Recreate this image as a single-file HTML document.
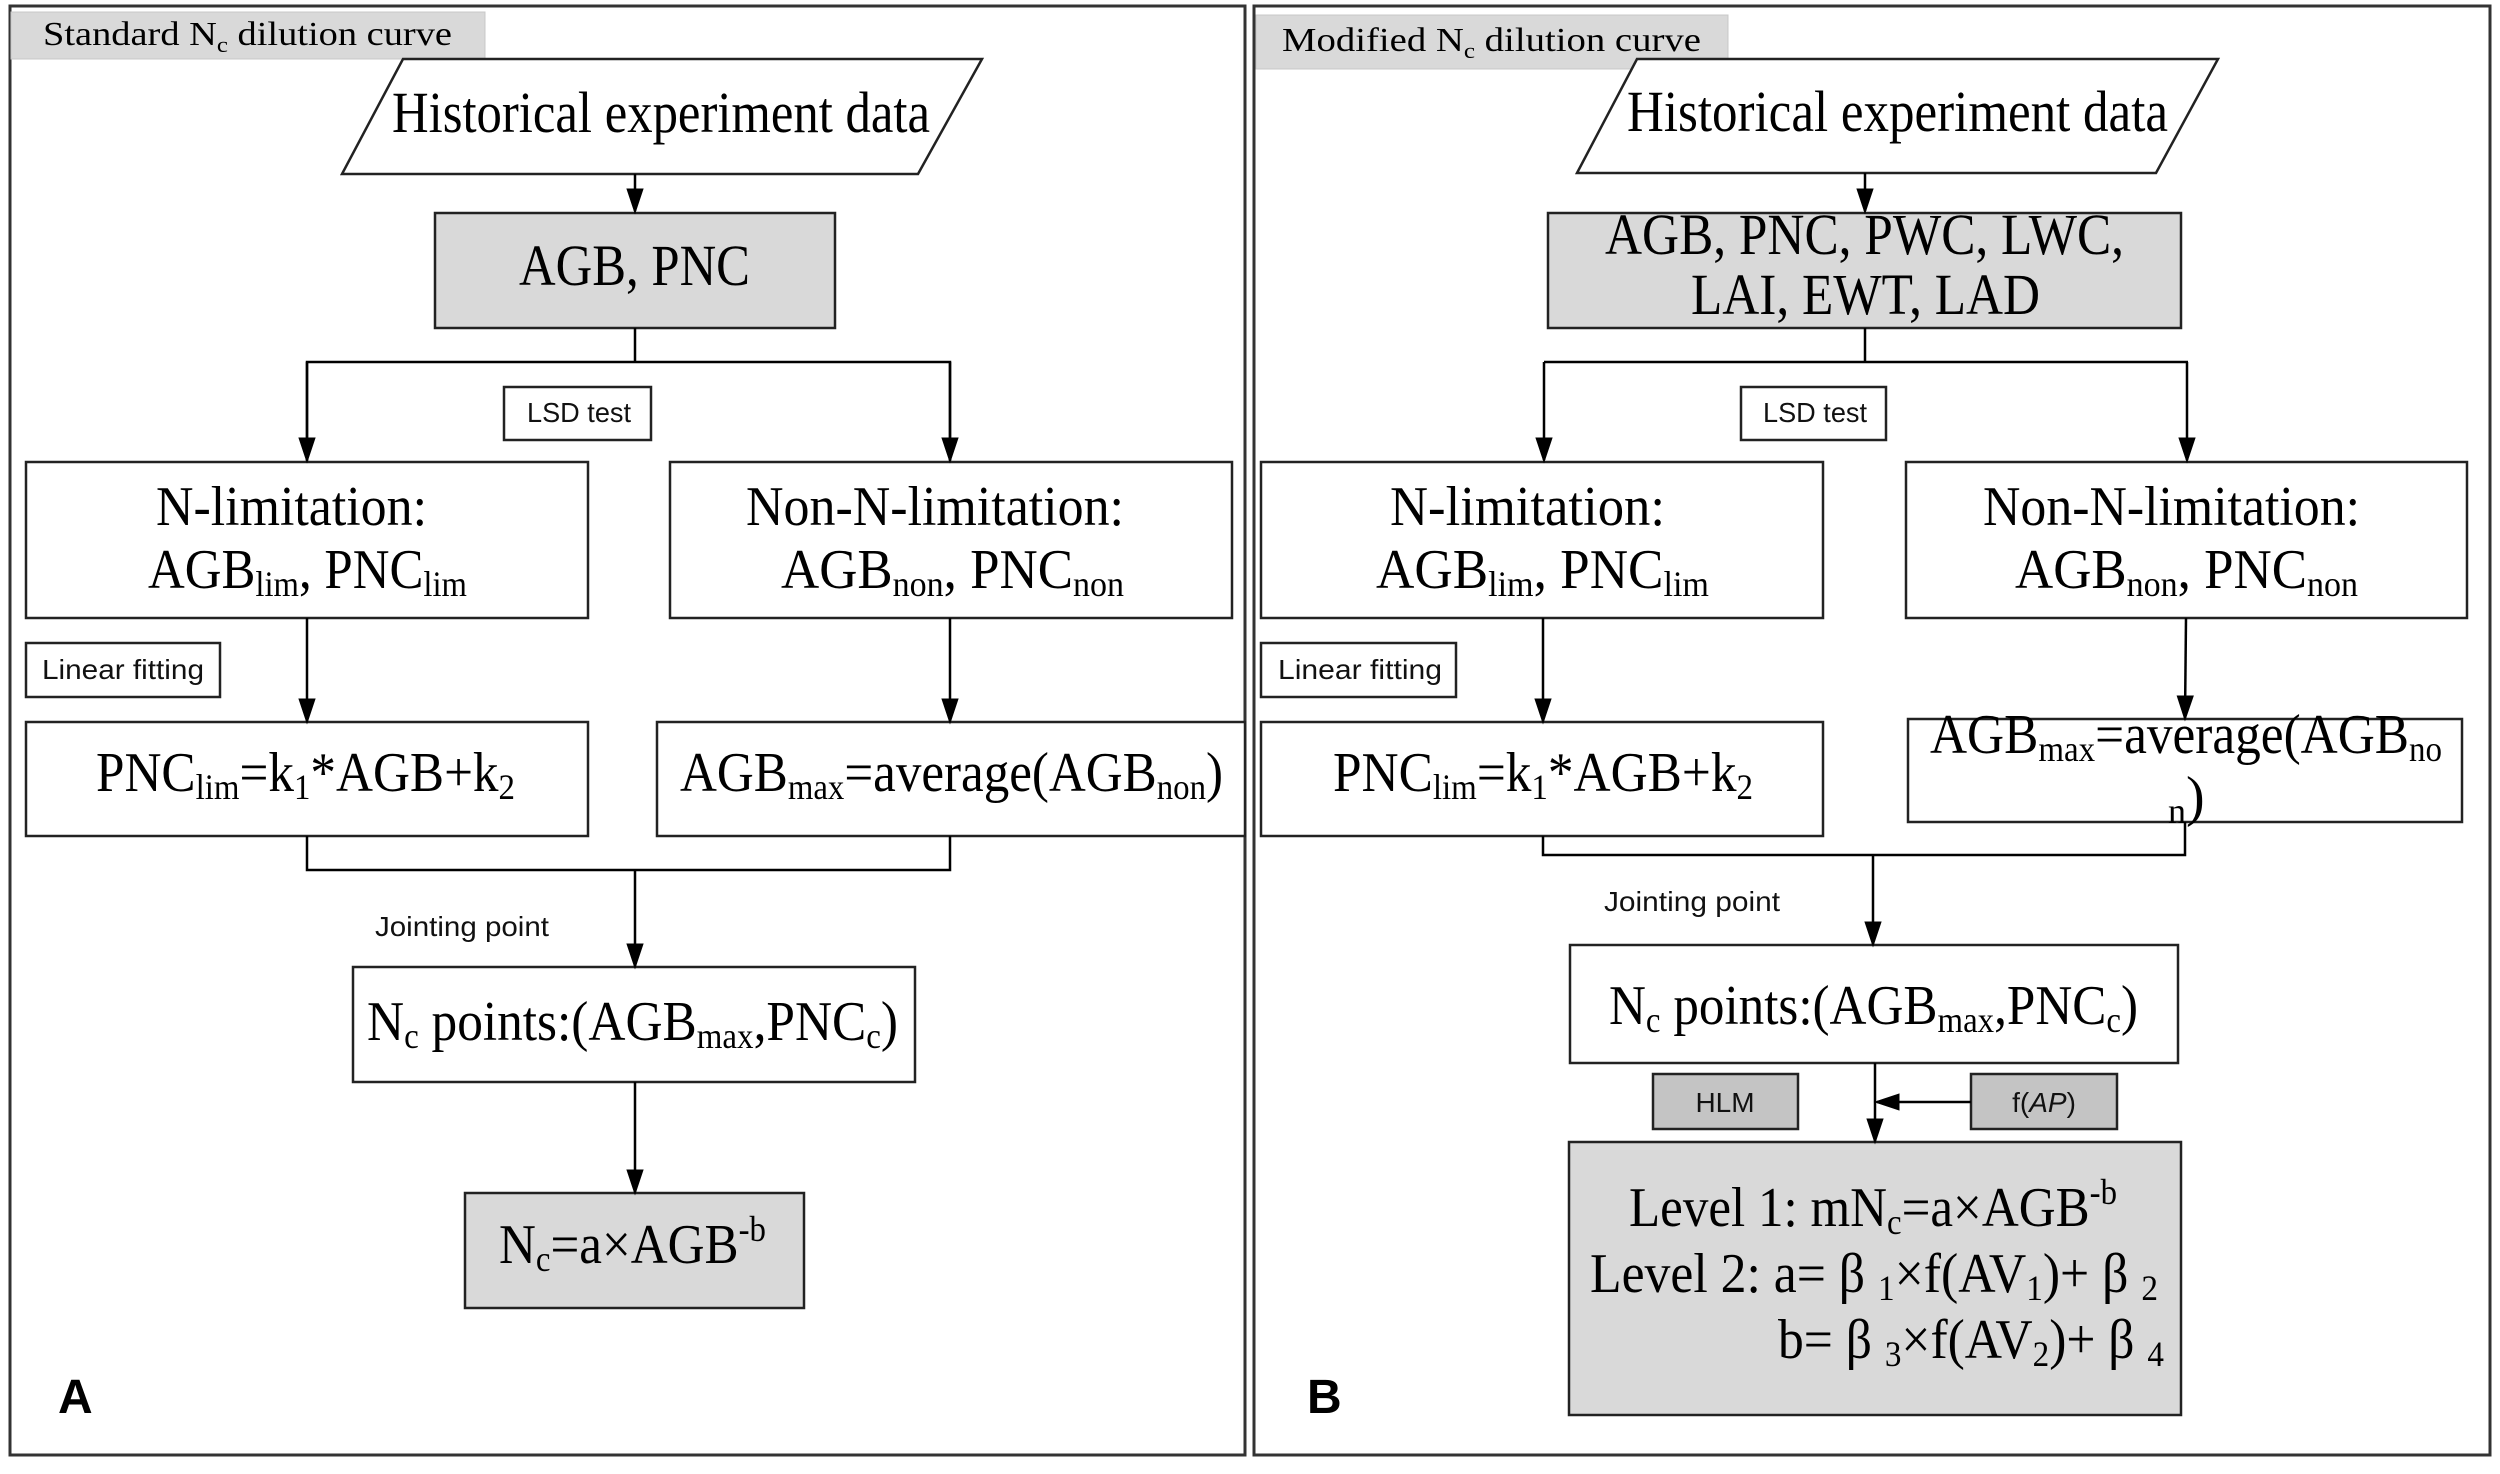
<!DOCTYPE html>
<html><head><meta charset="utf-8"><style>
html,body{margin:0;padding:0;background:#fff}
svg{display:block}
.s{font-family:"Liberation Serif",serif;fill:#000}
.c{font-family:"Liberation Sans",sans-serif;fill:#111}
</style></head><body>
<svg width="2500" height="1474" viewBox="0 0 2500 1474" xmlns="http://www.w3.org/2000/svg">
<defs>
<marker id="ar" markerWidth="10" markerHeight="12" refX="9" refY="6" orient="auto" markerUnits="userSpaceOnUse" viewBox="0 0 10 12">
<path d="M0,0 L10,6 L0,12 z" fill="#000"/></marker>
<marker id="ab" markerWidth="26" markerHeight="30" refX="26" refY="10" orient="auto" markerUnits="userSpaceOnUse" viewBox="0 0 30 20">
<path d="M0,0 L30,10 L0,20 z" fill="#000"/></marker>
</defs>
<g fill="none" stroke="#333" stroke-width="3">
<rect x="10" y="6" width="1235" height="1449"/>
<rect x="1254" y="6" width="1236" height="1449"/>
</g>
<!-- Tabs -->
<rect x="11" y="12" width="474" height="47" fill="#d9d9d9" stroke="#c8c8c8" stroke-width="1"/>
<text class="s" x="43" y="45" font-size="34" textLength="409" lengthAdjust="spacingAndGlyphs">Standard N<tspan font-size="22" dy="7">c</tspan><tspan dy="-7"> dilution curve</tspan></text>
<rect x="1256" y="15" width="472" height="54" fill="#d9d9d9" stroke="#c8c8c8" stroke-width="1"/>
<text class="s" x="1282" y="51" font-size="34" textLength="419" lengthAdjust="spacingAndGlyphs">Modified N<tspan font-size="22" dy="7">c</tspan><tspan dy="-7"> dilution curve</tspan></text>

<g stroke="#222" stroke-width="2.5" fill="#fff">
<!-- LEFT -->
<polygon points="403,59 982,59 918,174 342,174"/>
<rect x="435" y="213" width="400" height="115" fill="#d9d9d9"/>
<rect x="504" y="387" width="147" height="53"/>
<rect x="26" y="462" width="562" height="156"/>
<rect x="670" y="462" width="562" height="156"/>
<rect x="26" y="643" width="194" height="54"/>
<rect x="26" y="722" width="562" height="114"/>
<rect x="657" y="722" width="588" height="114"/>
<rect x="353" y="967" width="562" height="115"/>
<rect x="465" y="1193" width="339" height="115" fill="#d9d9d9"/>
<!-- RIGHT -->
<polygon points="1637,59 2218,59 2156,173 1577,173"/>
<rect x="1548" y="213" width="633" height="115" fill="#d9d9d9"/>
<rect x="1741" y="387" width="145" height="53"/>
<rect x="1261" y="462" width="562" height="156"/>
<rect x="1906" y="462" width="561" height="156"/>
<rect x="1261" y="643" width="195" height="54"/>
<rect x="1261" y="722" width="562" height="114"/>
<rect x="1908" y="719" width="554" height="103"/>
<rect x="1570" y="945" width="608" height="118"/>
<rect x="1653" y="1074" width="145" height="55" fill="#c4c4c4"/>
<rect x="1971" y="1074" width="146" height="55" fill="#c4c4c4"/>
<rect x="1569" y="1142" width="612" height="273" fill="#d9d9d9"/>
</g>

<g stroke="#000" stroke-width="2.5" fill="none">
<!-- left connectors -->
<line x1="635" y1="174" x2="635" y2="211" marker-end="url(#ab)"/>
<polyline points="635,328 635,362"/>
<polyline points="307,461 307,362 950,362 950,461"/>
<line x1="307" y1="362" x2="307" y2="460" marker-end="url(#ab)"/>
<line x1="950" y1="362" x2="950" y2="460" marker-end="url(#ab)"/>
<line x1="307" y1="618" x2="307" y2="721" marker-end="url(#ab)"/>
<line x1="950" y1="618" x2="950" y2="721" marker-end="url(#ab)"/>
<polyline points="307,836 307,870 950,870 950,836"/>
<line x1="635" y1="870" x2="635" y2="966" marker-end="url(#ab)"/>
<line x1="635" y1="1082" x2="635" y2="1192" marker-end="url(#ab)"/>
<!-- right connectors -->
<line x1="1865" y1="173" x2="1865" y2="211" marker-end="url(#ab)"/>
<polyline points="1865,328 1865,362"/>
<polyline points="1544,362 2188,362"/>
<line x1="1544" y1="362" x2="1544" y2="460" marker-end="url(#ab)"/>
<line x1="2187" y1="362" x2="2187" y2="460" marker-end="url(#ab)"/>
<line x1="1543" y1="618" x2="1543" y2="721" marker-end="url(#ab)"/>
<line x1="2186" y1="618" x2="2185" y2="718" marker-end="url(#ab)"/>
<polyline points="1543,836 1543,855 2185,855 2185,822"/>
<line x1="1873" y1="855" x2="1873" y2="944" marker-end="url(#ab)"/>
<line x1="1875" y1="1063" x2="1875" y2="1141" marker-end="url(#ab)"/>
<line x1="1971" y1="1102" x2="1877" y2="1102" marker-end="url(#ab)"/>
</g>

<!-- LEFT TEXT -->
<text class="s" x="392" y="132" font-size="58" textLength="538" lengthAdjust="spacingAndGlyphs">Historical experiment data</text>
<text class="s" x="519" y="285" font-size="58" textLength="231" lengthAdjust="spacingAndGlyphs">AGB, PNC</text>
<text class="c" x="527" y="422" font-size="28" textLength="104" lengthAdjust="spacingAndGlyphs">LSD test</text>
<text class="s" x="156" y="525" font-size="56" textLength="271" lengthAdjust="spacingAndGlyphs">N-limitation:</text>
<text class="s" x="148" y="588" font-size="56" textLength="319" lengthAdjust="spacingAndGlyphs">AGB<tspan font-size="36" dy="8">lim</tspan><tspan dy="-8">, PNC</tspan><tspan font-size="36" dy="8">lim</tspan></text>
<text class="s" x="746" y="525" font-size="56" textLength="378" lengthAdjust="spacingAndGlyphs">Non-N-limitation:</text>
<text class="s" x="781" y="588" font-size="56" textLength="343" lengthAdjust="spacingAndGlyphs">AGB<tspan font-size="36" dy="8">non</tspan><tspan dy="-8">,  PNC</tspan><tspan font-size="36" dy="8">non</tspan></text>
<text class="c" x="42" y="679" font-size="28" textLength="162" lengthAdjust="spacingAndGlyphs">Linear fitting</text>
<text class="s" x="96" y="791" font-size="56" textLength="419" lengthAdjust="spacingAndGlyphs">PNC<tspan font-size="36" dy="8">lim</tspan><tspan dy="-8">=k</tspan><tspan font-size="36" dy="8">1</tspan><tspan dy="-8">*AGB+k</tspan><tspan font-size="36" dy="8">2</tspan></text>
<text class="s" x="680" y="791" font-size="56" textLength="543" lengthAdjust="spacingAndGlyphs">AGB<tspan font-size="36" dy="8">max</tspan><tspan dy="-8">=average(AGB</tspan><tspan font-size="36" dy="8">non</tspan><tspan dy="-8">)</tspan></text>
<text class="c" x="375" y="936" font-size="28" textLength="174" lengthAdjust="spacingAndGlyphs">Jointing point</text>
<text class="s" x="367" y="1040" font-size="56" textLength="531" lengthAdjust="spacingAndGlyphs">N<tspan font-size="36" dy="8">c</tspan><tspan dy="-8"> points:(AGB</tspan><tspan font-size="36" dy="8">max</tspan><tspan dy="-8">,PNC</tspan><tspan font-size="36" dy="8">c</tspan><tspan dy="-8">)</tspan></text>
<text class="s" x="499" y="1263" font-size="56" textLength="267" lengthAdjust="spacingAndGlyphs">N<tspan font-size="36" dy="8">c</tspan><tspan dy="-8">=a×AGB</tspan><tspan font-size="36" dy="-22">-b</tspan></text>
<text x="58" y="1413" font-family="Liberation Sans,sans-serif" font-weight="bold" font-size="48">A</text>

<!-- RIGHT TEXT -->
<text class="s" x="1627" y="131" font-size="58" textLength="541" lengthAdjust="spacingAndGlyphs">Historical experiment data</text>
<text class="s" x="1605" y="254" font-size="58" textLength="519" lengthAdjust="spacingAndGlyphs">AGB, PNC, PWC, LWC,</text>
<text class="s" x="1691" y="314" font-size="58" textLength="349" lengthAdjust="spacingAndGlyphs">LAI, EWT, LAD</text>
<text class="c" x="1763" y="422" font-size="28" textLength="104" lengthAdjust="spacingAndGlyphs">LSD test</text>
<text class="s" x="1390" y="525" font-size="56" textLength="275" lengthAdjust="spacingAndGlyphs">N-limitation:</text>
<text class="s" x="1376" y="588" font-size="56" textLength="333" lengthAdjust="spacingAndGlyphs">AGB<tspan font-size="36" dy="8">lim</tspan><tspan dy="-8">,  PNC</tspan><tspan font-size="36" dy="8">lim</tspan></text>
<text class="s" x="1983" y="525" font-size="56" textLength="377" lengthAdjust="spacingAndGlyphs">Non-N-limitation:</text>
<text class="s" x="2015" y="588" font-size="56" textLength="343" lengthAdjust="spacingAndGlyphs">AGB<tspan font-size="36" dy="8">non</tspan><tspan dy="-8">,  PNC</tspan><tspan font-size="36" dy="8">non</tspan></text>
<text class="c" x="1278" y="679" font-size="28" textLength="164" lengthAdjust="spacingAndGlyphs">Linear fitting</text>
<text class="s" x="1333" y="791" font-size="56" textLength="420" lengthAdjust="spacingAndGlyphs">PNC<tspan font-size="36" dy="8">lim</tspan><tspan dy="-8">=k</tspan><tspan font-size="36" dy="8">1</tspan><tspan dy="-8">*AGB+k</tspan><tspan font-size="36" dy="8">2</tspan></text>
<text class="s" x="1930" y="753" font-size="56" textLength="512" lengthAdjust="spacingAndGlyphs">AGB<tspan font-size="36" dy="8">max</tspan><tspan dy="-8">=average(AGB</tspan><tspan font-size="36" dy="8">no</tspan></text>
<text class="s" x="2168" y="815" font-size="56"><tspan font-size="36" dy="8">n</tspan><tspan dy="-8">)</tspan></text>
<text class="c" x="1604" y="911" font-size="28" textLength="176" lengthAdjust="spacingAndGlyphs">Jointing point</text>
<text class="s" x="1609" y="1024" font-size="56" textLength="529" lengthAdjust="spacingAndGlyphs">N<tspan font-size="36" dy="8">c</tspan><tspan dy="-8"> points:(AGB</tspan><tspan font-size="36" dy="8">max</tspan><tspan dy="-8">,PNC</tspan><tspan font-size="36" dy="8">c</tspan><tspan dy="-8">)</tspan></text>
<text class="c" x="1725" y="1112" font-size="28" text-anchor="middle">HLM</text>
<text class="c" x="2044" y="1112" font-size="28" text-anchor="middle">f(<tspan font-style="italic">AP</tspan>)</text>
<text class="s" x="1629" y="1226" font-size="56" textLength="488" lengthAdjust="spacingAndGlyphs">Level 1: mN<tspan font-size="36" dy="8">c</tspan><tspan dy="-8">=a×AGB</tspan><tspan font-size="36" dy="-22">-b</tspan></text>
<text class="s" x="1590" y="1292" font-size="56" textLength="568" lengthAdjust="spacingAndGlyphs">Level 2: a= β <tspan font-size="36" dy="8">1</tspan><tspan dy="-8">×f(AV</tspan><tspan font-size="36" dy="8">1</tspan><tspan dy="-8">)+ β </tspan><tspan font-size="36" dy="8">2</tspan></text>
<text class="s" x="1778" y="1358" font-size="56" textLength="386" lengthAdjust="spacingAndGlyphs">b= β <tspan font-size="36" dy="8">3</tspan><tspan dy="-8">×f(AV</tspan><tspan font-size="36" dy="8">2</tspan><tspan dy="-8">)+ β </tspan><tspan font-size="36" dy="8">4</tspan></text>
<text x="1307" y="1413" font-family="Liberation Sans,sans-serif" font-weight="bold" font-size="48">B</text>
</svg>
</body></html>
